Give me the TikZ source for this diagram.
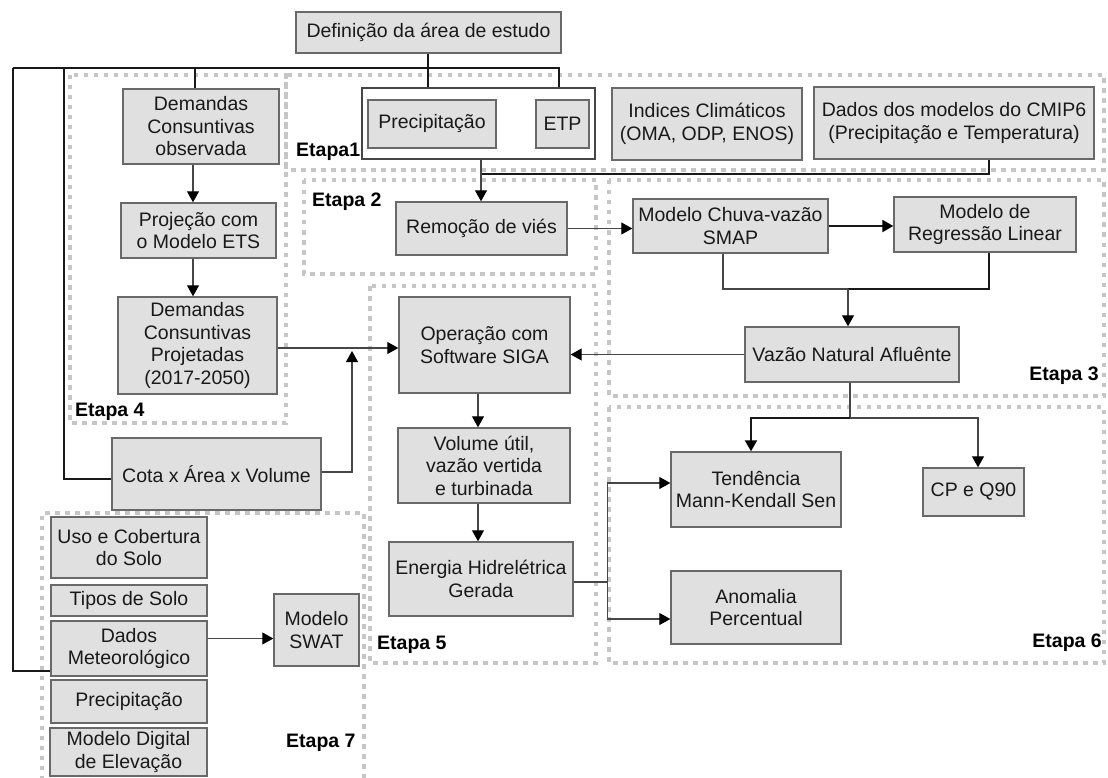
\documentclass[tikz,border=0pt]{standalone}
\usepackage{fontspec}
\setmainfont{Liberation Sans}
\usetikzlibrary{arrows.meta}
\definecolor{boxfill}{RGB}{224,224,224}
\definecolor{boxline}{RGB}{105,105,105}
\definecolor{framec}{RGB}{198,198,198}
\definecolor{thinc}{RGB}{70,70,70}
\definecolor{thickc}{RGB}{25,25,25}
\newcommand\bxt[7][box]{\node[#1,minimum width={(#5-#3)*1pt},minimum height={(#6-#4)*1pt}] (#2) at ({(#3+#5)/2},{(#4+#6)/2}) {#7};}
\begin{document}
\begin{tikzpicture}[x=1pt,y=-1pt,
  box/.style={draw=boxline,fill=boxfill,line width=1.4pt,align=center,inner sep=0pt,text=black!90,font=\fontsize{19.5}{22.5}\selectfont},
  cont/.style={draw=thinc,fill=white,line width=1.5pt,inner sep=0pt},
  frm/.style={draw=framec,line width=4.5pt,dash pattern=on 4.5pt off 5.5pt},
  cn/.style={draw=thinc,line width=1.1pt},
  ck/.style={draw=thickc,line width=2.2pt},
  ar/.style={-{Triangle[length=11pt,width=12pt,color=black]}},
  lab/.style={font=\fontsize{19.5}{22.5}\selectfont\bfseries,inner sep=0pt}]

\useasboundingbox (0,0) rectangle (1108,778);

% stage frames
\draw[frm] (70,75) rectangle (286,423);
\draw[frm] (286,75) rectangle (1104,170);
\draw[frm] (304,180) rectangle (596,274);
\draw[frm] (609,180) rectangle (1104,396);
\draw[frm] (370,286) rectangle (596,663);
\draw[frm] (609,407) rectangle (1104,663);
\draw[frm] (42,790) -- (42,513) -- (364,513) -- (364,790);

% stage labels
\node[lab,anchor=base west] (e1) at (296,157) {Etapa1};
\node[lab,anchor=base west] (e2) at (312,207) {Etapa 2};
\node[lab,anchor=base east] (e3) at (1099,380) {Etapa 3};
\node[lab,anchor=base west] (e4) at (75,416) {Etapa 4};
\node[lab,anchor=base west] (e5) at (377,649) {Etapa 5};
\node[lab,anchor=base east] (e6) at (1102,647) {Etapa 6};
\node[lab,anchor=base west] (e7) at (286,747) {Etapa 7};

% nodes
\bxt{def}{296}{12}{561}{53}{Definição da área de estudo}
\bxt[cont]{cont}{362}{88}{595}{159}{}
\bxt{prec}{368}{100}{496}{148}{Precipitação}
\bxt{etp}{536}{100}{589}{148}{ETP}
\bxt{ind}{612}{88}{802}{160}{Indices Climáticos\\(OMA, ODP, ENOS)}
\bxt{cmip}{814}{87}{1094}{159}{Dados dos modelos do CMIP6\\(Precipitação e Temperatura)}
\bxt{dco}{123}{89}{279}{164}{Demandas\\Consuntivas\\observada}
\bxt{proj}{121}{203}{276}{258}{Projeção com\\o Modelo ETS}
\bxt{dpr}{118}{297}{277}{394}{Demandas\\Consuntivas\\Projetadas\\(2017-2050)}
\bxt{rem}{396}{202}{567}{255}{Remoção de viés}
\bxt{smap}{633}{199}{828}{253}{Modelo Chuva-vazão\\SMAP}
\bxt{reg}{894}{197}{1076}{252}{Modelo de\\Regressão Linear}
\bxt{vaz}{745}{327}{959}{382}{Vazão Natural Afluênte}
\bxt{sig}{399}{297}{570}{393}{Operação com\\Software SIGA}
\bxt{vol}{398}{428}{570}{503}{Volume útil,\\vazão vertida\\e turbinada}
\bxt{ene}{389}{542}{573}{616}{Energia Hidrelétrica\\Gerada}
\bxt{cota}{112}{438}{321}{510}{Cota x Área x Volume}
\bxt{ten}{671}{452}{841}{527}{Tendência\\Mann-Kendall Sen}
\bxt{cp}{923}{468}{1024}{516}{CP e Q90}
\bxt{ano}{671}{571}{841}{644}{Anomalia\\Percentual}
\bxt{uso}{51}{517}{207}{578}{Uso e Cobertura\\do Solo}
\bxt{tip}{51}{585}{207}{616}{Tipos de Solo}
\bxt{dmet}{51}{621}{207}{676}{Dados\\Meteorológico}
\bxt{pre2}{51}{680}{207}{723}{Precipitação}
\bxt{mde}{50}{728}{207}{776}{Modelo Digital\\de Elevação}
\bxt{swat}{274}{594}{359}{666}{Modelo\\SWAT}

% top distribution lines
\coordinate (tl) at (13,68);
\coordinate (tr) at (559,68);
\coordinate (l4) at (64,68);
\coordinate (ld) at (195,68);
\coordinate (dv) at (428,68);
\draw[ck] (tl) -- (tr) -- (tr |- cont.north);
\draw[ck] (dv |- def.south) -- (dv |- cont.north);
\draw[ck] (ld) -- (ld |- dco.north);
\draw[ck] (l4) |- ([yshift=-5pt]cota.west);
\draw[ck] (tl) |- ([yshift=-22.5pt]dmet.west);

% stage 4
\coordinate (ax) at (193,0);
\draw[cn,ar] (ax |- dco.south) -- (ax |- proj.north);
\draw[cn,ar] (ax |- proj.south) -- (ax |- dpr.north);
\draw[cn,ar] ([yshift=-2.5pt]dpr.east) -- ([yshift=-2.5pt]dpr.east -| sig.west);
\coordinate (up) at (352,351);
\draw[cn,ar] ([yshift=2pt]cota.east) -| (up);

% stage 1 -> 2
\coordinate (pv) at (481,174);
\coordinate (cm) at (989,174);
\draw[ck] (cm |- cmip.south) -- (cm) -- (pv);
\draw[cn,ar] (pv |- cont.south) -- (pv |- rem.north);

% stage 2 -> 3
\draw[cn,ar] (rem.east) -- (rem.east -| smap.west);
\draw[ck,ar] (smap.east) -- (smap.east -| reg.west);
\coordinate (jn) at (848,289);
\coordinate (sx) at (723,0);
\coordinate (rx) at (989,0);
\draw[cn] (sx |- smap.south) |- (jn);
\draw[ck] (rx |- reg.south) |- (jn);
\draw[cn,ar] (jn) -- (jn |- vaz.north);
\draw[cn,ar] (vaz.west) -- (vaz.west -| sig.east);

% stage 3 -> 6
\coordinate (vj) at (850,418);
\coordinate (tx) at (751,418);
\coordinate (cx) at (978,418);
\draw[cn] (vj |- vaz.south) -- (vj);
\draw[ck,ar] (vj) -- (tx) -- (tx |- ten.north);
\draw[cn,ar] (vj) -- (cx) -- (cx |- cp.north);

% stage 5
\coordinate (sgx) at (478,0);
\draw[cn,ar] (sgx |- sig.south) -- (sgx |- vol.north);
\draw[cn,ar] (sgx |- vol.south) -- (sgx |- ene.north);
\path ([yshift=-3pt]ene.east) ++(34,0) coordinate (ej);
\draw[cn] ([yshift=-3pt]ene.east) -- (ej);
\draw[cn,ar] (ej) |- ([yshift=6.5pt]ten.west);
\draw[cn,ar] (ej) |- ([yshift=-11.5pt]ano.west);

% stage 7
\draw[cn,ar] ([yshift=10pt]dmet.east) -- ([yshift=10pt]dmet.east -| swat.west);
\end{tikzpicture}
\end{document}
